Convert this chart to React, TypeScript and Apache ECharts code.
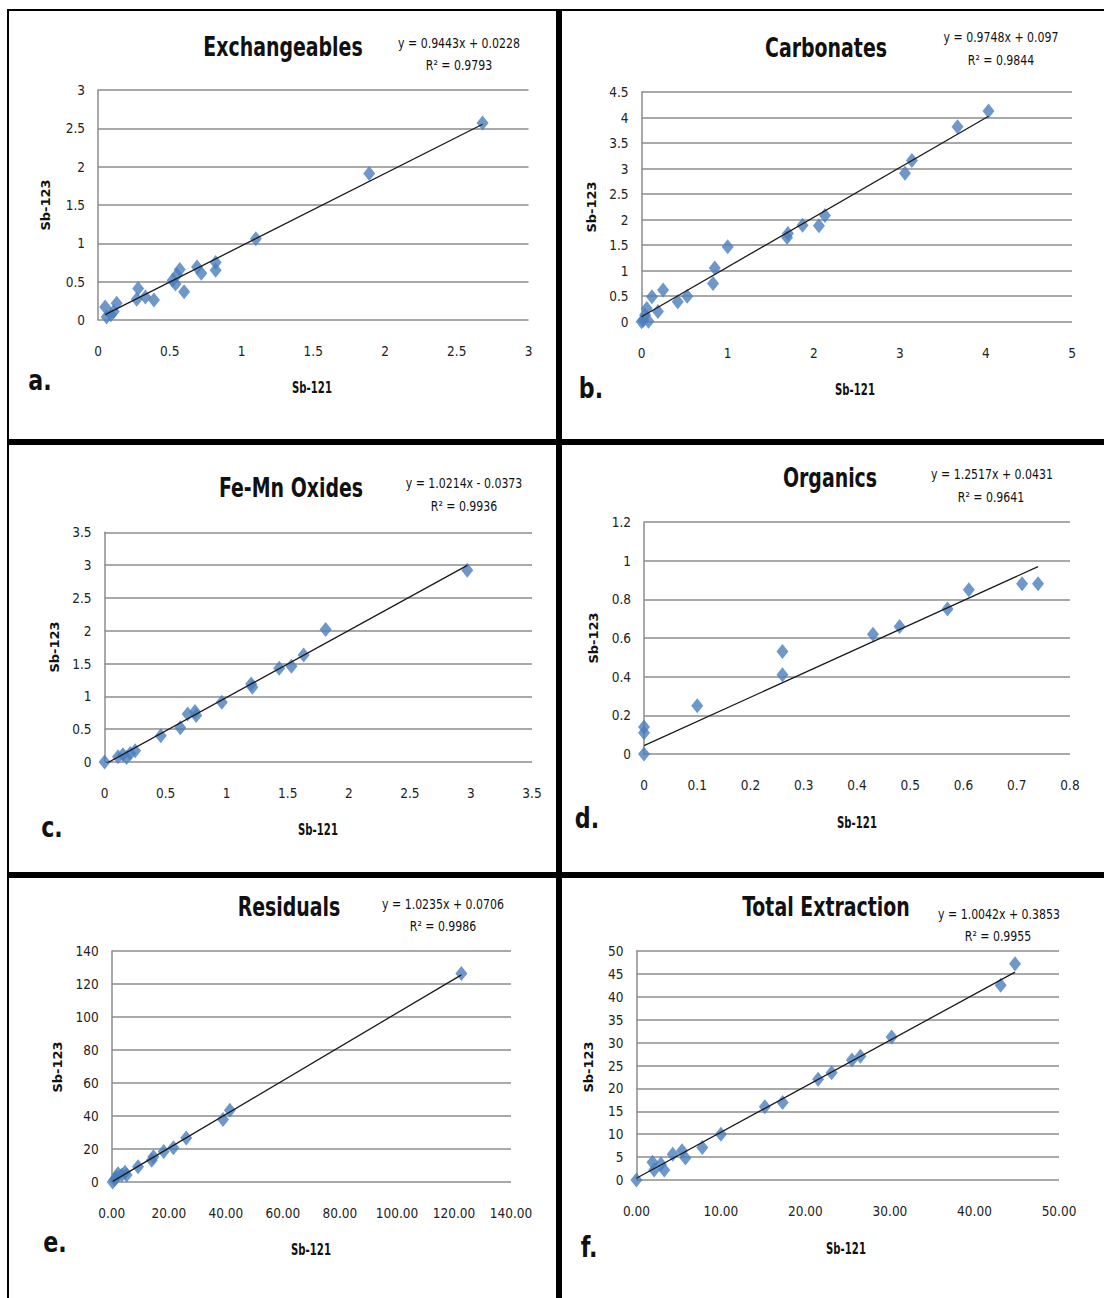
import React, { useEffect, useRef } from "react";
import * as echarts from "echarts";

// Sb-121 vs Sb-123 for each extraction step
const exchX = [0.05, 0.06, 0.09, 0.11, 0.13, 0.27, 0.28, 0.33, 0.39, 0.52, 0.54, 0.55, 0.57, 0.6, 0.69, 0.72, 0.82, 0.82, 1.1, 1.89, 2.68];
const exchY = [0.17, 0.04, 0.07, 0.11, 0.22, 0.27, 0.41, 0.3, 0.26, 0.52, 0.47, 0.59, 0.66, 0.37, 0.69, 0.61, 0.75, 0.65, 1.06, 1.91, 2.57];

const carbX = [0.0, 0.02, 0.04, 0.06, 0.08, 0.12, 0.19, 0.25, 0.42, 0.53, 0.83, 0.85, 1.0, 1.69, 1.7, 1.87, 2.06, 2.13, 3.06, 3.14, 3.67, 4.03];
const carbY = [0.0, 0.03, 0.13, 0.26, 0.01, 0.49, 0.2, 0.62, 0.39, 0.5, 0.75, 1.05, 1.47, 1.65, 1.73, 1.89, 1.88, 2.08, 2.91, 3.16, 3.82, 4.13];

const oxX = [0.0, 0.11, 0.15, 0.18, 0.21, 0.25, 0.46, 0.62, 0.68, 0.74, 0.75, 0.96, 1.2, 1.21, 1.43, 1.53, 1.63, 1.81, 2.97];
const oxY = [0.0, 0.08, 0.11, 0.07, 0.13, 0.17, 0.4, 0.52, 0.73, 0.77, 0.71, 0.91, 1.19, 1.14, 1.43, 1.46, 1.63, 2.02, 2.92];

const orgX = [0, 0, 0, 0.1, 0.26, 0.26, 0.43, 0.48, 0.57, 0.61, 0.71, 0.74];
const orgY = [0, 0.11, 0.14, 0.25, 0.53, 0.41, 0.62, 0.66, 0.75, 0.85, 0.88, 0.88];

const resX = [0.3, 1.0, 1.7, 2.2, 3.5, 4.6, 5.2, 9.2, 14.0, 14.6, 18.2, 21.6, 26.1, 39.0, 41.4, 122.6];
const resY = [0.0, 1.5, 3.2, 5.0, 4.2, 5.9, 4.2, 9.2, 13.2, 15.3, 18.5, 20.8, 26.6, 37.9, 43.5, 126.3];

const totX = [0.0, 1.9, 2.1, 2.9, 3.3, 4.3, 5.4, 5.8, 7.8, 10.0, 15.2, 17.3, 21.5, 23.1, 25.5, 26.5, 30.2, 43.1, 44.8];
const totY = [0.0, 3.9, 2.2, 3.5, 2.2, 5.6, 6.4, 4.8, 7.1, 10.0, 16.0, 16.9, 22.0, 23.4, 26.2, 27.0, 31.2, 42.5, 47.2];

const panelTitles = ["Exchangeables", "Carbonates", "Fe-Mn Oxides", "Organics", "Residuals", "Total Extraction"];
const panelLetters = ["a.", "b.", "c.", "d.", "e.", "f."];

// Linear fits (y = slope * x + intercept)
const slopes = [0.9443, 0.9748, 1.0214, 1.2517, 1.0235, 1.0042];
const intercepts = [0.0228, 0.097, -0.0373, 0.0431, 0.0706, 0.3853];
const rSquared = ["0.9793", "0.9844", "0.9936", "0.9641", "0.9986", "0.9955"];

// Axis scales
const xMax = [3, 5, 3.5, 0.8, 140, 50];
const xStep = [0.5, 1, 0.5, 0.1, 20, 10];
const yMax = [3, 4.5, 3.5, 1.2, 140, 50];
const yStep = [0.5, 0.5, 0.5, 0.2, 20, 5];
const xDecimals = [-1, -1, -1, -1, 2, 2];

const xAxisName = "Sb-121";
const yAxisName = "Sb-123";

const xsAll = [exchX, carbX, oxX, orgX, resX, totX];
const ysAll = [exchY, carbY, oxY, orgY, resY, totY];

// Plot rectangles: [left, top, width, height]
const gridBoxes = [
  [98, 90, 430.5, 230],
  [641.6, 92, 430.4, 229.7],
  [104.6, 532.3, 427.4, 229.7],
  [644, 522, 426, 232],
  [111.8, 951, 399.2, 231],
  [636.4, 951, 422.6, 229],
];

// Text anchors per panel
const titlePos = [[283, 47], [826, 48], [291, 488], [830, 478], [289, 907], [826, 907]];
const eqPos = [[459, 43], [1001, 37], [464, 483], [992, 474], [443, 904], [999, 914]];
const r2Pos = [[459, 65], [1001, 60], [464, 506], [991, 497], [443, 926], [998, 936]];
const yNamePos = [[45, 205], [591, 207], [54, 647], [593, 638], [57, 1067], [588, 1067]];
const xNamePos = [[312, 388], [855, 390], [318, 830], [857, 823], [311, 1250], [846, 1249]];
const letterPos = [[40, 380], [591, 388], [52, 827], [587, 818], [55, 1242], [589, 1247]];

const NARROW = '"DejaVu Sans Condensed", "DejaVu Sans", sans-serif';
const MARKER = "#4A7EBB";
const GRID_GRAY = "#8C8C8C";

function label(text: string, x: number, y: number, font: string, extra: any = {}) {
  return {
    type: "text",
    x,
    y,
    ...extra,
    style: {
      text,
      font,
      fill: "#111",
      align: "center",
      verticalAlign: "middle",
      textAlign: "center",
      textVerticalAlign: "middle",
    },
  };
}

function fmtTick(v: number, decimals: number) {
  if (decimals >= 0) return v.toFixed(decimals);
  return String(+v.toFixed(3));
}

function buildOption() {
  const grid: any[] = [];
  const xAxis: any[] = [];
  const yAxis: any[] = [];
  const series: any[] = [];
  const graphic: any[] = [];

  for (let i = 0; i < 6; i++) {
    const [l, t, w, h] = gridBoxes[i];
    grid.push({ left: l, top: t, width: w, height: h, containLabel: false });
    const dec = xDecimals[i];
    xAxis.push({
      type: "value",
      gridIndex: i,
      min: 0,
      max: xMax[i],
      interval: xStep[i],
      axisLine: { show: false },
      axisTick: { show: false },
      splitLine: { show: false },
      axisLabel: {
        margin: 24,
        fontFamily: NARROW,
        fontSize: 13.5,
        color: "#222",
        formatter: (v: number) => fmtTick(v, dec),
      },
    });
    yAxis.push({
      type: "value",
      gridIndex: i,
      min: 0,
      max: yMax[i],
      interval: yStep[i],
      axisLine: { show: true, lineStyle: { color: GRID_GRAY, width: 1.5 } },
      axisTick: { show: false },
      splitLine: { show: true, lineStyle: { color: GRID_GRAY, width: 1.5 } },
      axisLabel: {
        margin: 13,
        fontFamily: NARROW,
        fontSize: 13.5,
        color: "#222",
        formatter: (v: number) => fmtTick(v, -1),
      },
    });

    const xs = xsAll[i];
    const ys = ysAll[i];
    series.push({
      type: "scatter",
      xAxisIndex: i,
      yAxisIndex: i,
      symbol: "diamond",
      symbolSize: [12, 15],
      itemStyle: { color: MARKER },
      data: xs.map((x, k) => [x, ys[k]]),
      z: 2,
    });

    const x0 = Math.min(...xs);
    const x1 = Math.max(...xs);
    const m = slopes[i];
    const b = intercepts[i];
    series.push({
      type: "line",
      xAxisIndex: i,
      yAxisIndex: i,
      showSymbol: false,
      symbol: "none",
      clip: true,
      lineStyle: { color: "#1a1a1a", width: 1.3 },
      data: [
        [x0, m * x0 + b],
        [x1, m * x1 + b],
      ],
      z: 3,
    });

    const sign = b < 0 ? "-" : "+";
    const eq = `y = ${m}x ${sign} ${Math.abs(b)}`;
    graphic.push(label(panelTitles[i], titlePos[i][0], titlePos[i][1], `bold 26px ${NARROW}`, { scaleX: 0.81 }));
    graphic.push(label(eq, eqPos[i][0], eqPos[i][1], `14px ${NARROW}`, { scaleX: 0.87 }));
    graphic.push(label(`R\u00B2 = ${rSquared[i]}`, r2Pos[i][0], r2Pos[i][1], `14px ${NARROW}`, { scaleX: 0.87 }));
    graphic.push(label(xAxisName, xNamePos[i][0], xNamePos[i][1], `bold 15px ${NARROW}`, { scaleX: 0.75 }));
    graphic.push(
      label(yAxisName, yNamePos[i][0], yNamePos[i][1], 'bold 13px "DejaVu Sans", sans-serif', {
        rotation: Math.PI / 2,
      })
    );
    graphic.push(label(panelLetters[i], letterPos[i][0], letterPos[i][1], `bold 29px ${NARROW}`, { scaleX: 0.85 }));
  }

  // Panel frame and dividers
  const frame = [
    [7, 9, 1097, 2],
    [7, 9, 2, 1289],
    [556, 9, 6, 1289],
    [7, 439, 1097, 6],
    [7, 872, 1097, 6],
  ];
  frame.forEach(([x, y, width, height]) =>
    graphic.push({ type: "rect", shape: { x, y, width, height }, style: { fill: "#000" }, z: 10 })
  );

  return {
    animation: false,
    backgroundColor: "#fff",
    grid,
    xAxis,
    yAxis,
    series,
    graphic,
  };
}

export default function App() {
  const ref = useRef<HTMLDivElement>(null);
  useEffect(() => {
    if (!ref.current) return;
    const chart = echarts.init(ref.current, undefined, { renderer: "svg" });
    chart.setOption(buildOption() as any);
    return () => chart.dispose();
  }, []);
  return (
    <div
      ref={ref}
      style={{ position: "absolute", left: 0, top: 0, width: 1104, height: 1298 }}
    />
  );
}
